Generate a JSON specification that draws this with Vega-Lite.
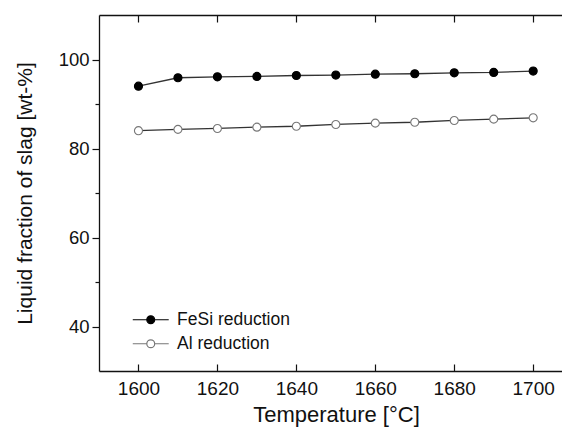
{
  "$schema": "https://vega.github.io/schema/vega-lite/v6.json",
  "width": 463,
  "height": 356,
  "autosize": {"type": "none"},
  "padding": {"left": 99, "top": 15, "right": 0, "bottom": 64},
  "config": {
    "view": {"stroke": null},
    "font": "Liberation Sans",
    "axis": {"domainColor": "#111", "domainWidth": 1.3, "tickColor": "#111", "tickWidth": 1.2, "labelColor": "#111", "titleColor": "#111", "grid": false, "labelFont": "Liberation Sans", "titleFont": "Liberation Sans", "titleFontWeight": "normal"}
  },
  "data": {
    "values": [
      {"temperature": 1600, "fraction": 94.0, "series": "FeSi reduction"},
      {"temperature": 1610, "fraction": 95.9, "series": "FeSi reduction"},
      {"temperature": 1620, "fraction": 96.1, "series": "FeSi reduction"},
      {"temperature": 1630, "fraction": 96.2, "series": "FeSi reduction"},
      {"temperature": 1640, "fraction": 96.4, "series": "FeSi reduction"},
      {"temperature": 1650, "fraction": 96.5, "series": "FeSi reduction"},
      {"temperature": 1660, "fraction": 96.7, "series": "FeSi reduction"},
      {"temperature": 1670, "fraction": 96.8, "series": "FeSi reduction"},
      {"temperature": 1680, "fraction": 97.0, "series": "FeSi reduction"},
      {"temperature": 1690, "fraction": 97.1, "series": "FeSi reduction"},
      {"temperature": 1700, "fraction": 97.4, "series": "FeSi reduction"},
      {"temperature": 1600, "fraction": 84.0, "series": "Al reduction"},
      {"temperature": 1610, "fraction": 84.3, "series": "Al reduction"},
      {"temperature": 1620, "fraction": 84.5, "series": "Al reduction"},
      {"temperature": 1630, "fraction": 84.8, "series": "Al reduction"},
      {"temperature": 1640, "fraction": 85.0, "series": "Al reduction"},
      {"temperature": 1650, "fraction": 85.4, "series": "Al reduction"},
      {"temperature": 1660, "fraction": 85.7, "series": "Al reduction"},
      {"temperature": 1670, "fraction": 85.9, "series": "Al reduction"},
      {"temperature": 1680, "fraction": 86.3, "series": "Al reduction"},
      {"temperature": 1690, "fraction": 86.6, "series": "Al reduction"},
      {"temperature": 1700, "fraction": 86.9, "series": "Al reduction"}
    ]
  },
  "resolve": {"axis": {"x": "independent"}},
  "layer": [
    {
      "mark": {"type": "line", "strokeWidth": 1.3, "color": "#333"},
      "encoding": {
        "x": {
          "field": "temperature", "type": "quantitative",
          "scale": {"domain": [1590, 1707.3], "nice": false, "zero": false},
          "axis": {
            "orient": "bottom", "values": [1600, 1620, 1640, 1660, 1680, 1700],
            "tickSize": -7, "labelPadding": 15, "labelFontSize": 19, "format": "d",
            "title": "Temperature [°C]", "titleFontSize": 22, "titlePadding": 6, "titleX": 237
          }
        },
        "y": {
          "field": "fraction", "type": "quantitative",
          "scale": {"domain": [30, 110], "nice": false, "zero": false},
          "axis": {
            "values": [40, 50, 60, 70, 80, 90, 100],
            "labelExpr": "datum.value % 20 === 0 ? datum.label : ''",
            "tickSize": {"condition": {"test": "datum.value % 20 === 0", "value": 7}, "value": 4},
            "labelPadding": 3, "labelFontSize": 18.5,
            "title": "Liquid fraction of slag [wt-%]", "titleFontSize": 21, "titlePadding": 23
          }
        },
        "detail": {"field": "series"}
      }
    },
    {
      "mark": {"type": "point", "shape": "circle", "size": 65, "filled": true, "strokeWidth": 1.1, "opacity": 1},
      "encoding": {
        "x": {
          "field": "temperature", "type": "quantitative",
          "axis": {
            "orient": "top", "values": [1600, 1620, 1640, 1660, 1680, 1700],
            "tickSize": -7, "labels": false, "title": null
          }
        },
        "y": {"field": "fraction", "type": "quantitative"},
        "fill": {
          "field": "series", "type": "nominal",
          "scale": {"domain": ["FeSi reduction", "Al reduction"], "range": ["#000000", "#ffffff"]},
          "legend": {
            "title": null, "orient": "none", "legendX": 43, "legendY": 296,
            "symbolType": "M-2.5,0H-0.55M0.55,0H2.5M-0.55,0A0.55,0.55 0 1,1 0.55,0A0.55,0.55 0 1,1 -0.55,0",
            "symbolSize": 207, "symbolStrokeWidth": 1.2, "labelFontSize": 17.5, "labelOffset": 17.6,
            "rowPadding": 5, "padding": 0, "labelColor": "#111", "labelFont": "Liberation Sans"
          }
        },
        "stroke": {
          "field": "series", "type": "nominal",
          "scale": {"domain": ["FeSi reduction", "Al reduction"], "range": ["#000000", "#777777"]},
          "legend": {
            "title": null, "orient": "none", "legendX": 43, "legendY": 296,
            "symbolType": "M-2.5,0H-0.55M0.55,0H2.5M-0.55,0A0.55,0.55 0 1,1 0.55,0A0.55,0.55 0 1,1 -0.55,0",
            "symbolSize": 207, "symbolStrokeWidth": 1.2, "labelFontSize": 17.5, "labelOffset": 17.6,
            "rowPadding": 5, "padding": 0, "labelColor": "#111", "labelFont": "Liberation Sans"
          }
        }
      }
    }
  ]
}
